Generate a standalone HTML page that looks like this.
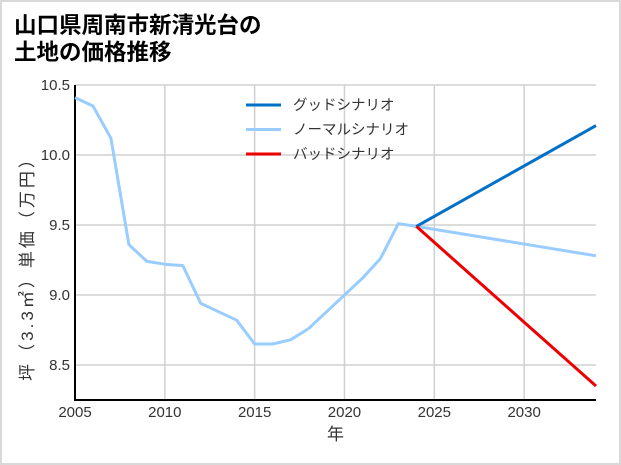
<!DOCTYPE html>
<html><head><meta charset="utf-8"><style>
body{margin:0;background:#fff;}
#wrap{position:relative;width:617px;height:461px;border:2px solid #d9d9d9;background:#fff;}
#title{position:absolute;left:12px;top:9px;font:bold 22.5px/27px "Noto Sans CJK JP","Liberation Sans",sans-serif;color:#000;}
svg{position:absolute;left:-2px;top:-2px;}
text{font-family:"Liberation Sans","Noto Sans CJK JP",sans-serif;}
</style></head><body>
<div id="wrap">
<div id="title">山口県周南市新清光台の<br>土地の価格推移</div>
<svg id="chart" width="621" height="465"></svg>
</div>
<script>
const years=[2005,2006,2007,2008,2009,2010,2011,2012,2013,2014,2015,2016,2017,2018,2019,2020,2021,2022,2023,2024];
const history=[10.41,10.35,10.12,9.36,9.24,9.22,9.21,8.94,8.88,8.82,8.65,8.65,8.68,8.76,8.88,9.0,9.12,9.26,9.51,9.49];
const scenarioYears=[2024,2034];
const goodVals=[9.49,10.21];
const normalVals=[9.49,9.28];
const badVals=[9.49,8.35];
const xTicks=[2005,2010,2015,2020,2025,2030];
const yTicks=[8.5,9.0,9.5,10.0,10.5];
const legendLabels=["グッドシナリオ","ノーマルシナリオ","バッドシナリオ"];
const legendColors=["#0070c8","#99ccff","#ee0000"];

const NS="http://www.w3.org/2000/svg";
const svg=document.getElementById('chart');
const L=75,R=596,T=85,B=400;
const x=v=>L+(v-2005)/(2034-2005)*(R-L);
const y=v=>T+(10.5-v)/(10.5-8.25)*(B-T);
function mk(tag,attrs,parent){const e=document.createElementNS(NS,tag);for(const k in attrs)e.setAttribute(k,attrs[k]);(parent||svg).appendChild(e);return e;}
xTicks.forEach(t=>{
 const g=mk('line',{x1:x(t),x2:x(t),y1:T,y2:B,stroke:'#d0d0d0','stroke-width':1.5});
 
 
 const tx=mk('text',{x:x(t),y:B+17,'text-anchor':'middle','font-size':15,fill:'#333'});tx.textContent=t;
 
 
});
yTicks.forEach(t=>{
 const g=mk('line',{x1:L,x2:R,y1:y(t),y2:y(t),stroke:'#d0d0d0','stroke-width':1.5});
 
 
 const tx=mk('text',{x:L-5,y:y(t)+5,'text-anchor':'end','font-size':15,fill:'#333'});tx.textContent=t.toFixed(1);
 
 
});
const ax=mk('path',{d:`M${L},${T} V${B} H${R}`,stroke:'#000','stroke-width':2,fill:'none'});


function line(xs,vs,color,name){
 const p=mk('polyline',{points:xs.map((a,i)=>x(a)+','+y(vs[i])).join(' '),fill:'none',stroke:color,'stroke-width':3,'stroke-linejoin':'round'});
 
 
}
line(years,history,'#99ccff','history-line');
line(scenarioYears,normalVals,'#99ccff','normal-scenario-line');
line(scenarioYears,goodVals,'#0070c8','good-scenario-line');
line(scenarioYears,badVals,'#ee0000','bad-scenario-line');
legendLabels.forEach((lab,i)=>{
 const yy=105+i*24.5;
 const g=mk('g',{});
 
 
 mk('line',{x1:246,x2:281,y1:yy,y2:yy,stroke:legendColors[i],'stroke-width':3},g);
 const t=mk('text',{x:293,y:yy+5,'font-size':14.5,fill:'#333'},g);t.textContent=lab;
});
const xt=mk('text',{x:(L+R)/2,y:B+40,'text-anchor':'middle','font-size':17,fill:'#333'});xt.textContent='年';


const yt=mk('text',{x:0,y:0,'text-anchor':'middle','font-size':17,'letter-spacing':3,fill:'#333',transform:`translate(33,${(T+B)/2+22}) rotate(-90)`});yt.textContent='坪（3.3㎡）単価（万円）';


</script>
</body></html>
